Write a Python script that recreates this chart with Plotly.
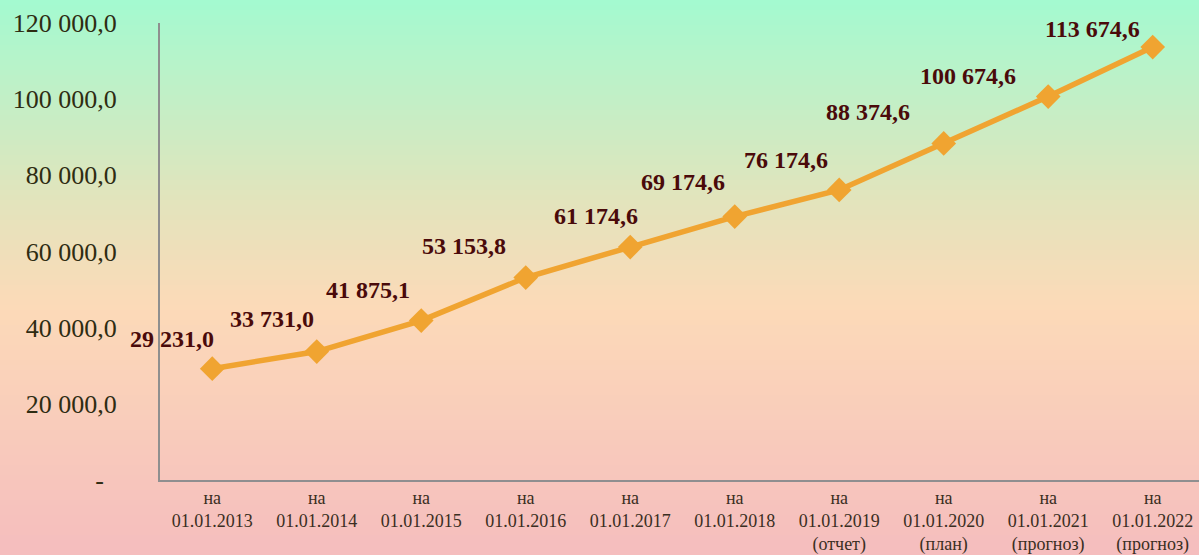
import plotly.graph_objects as go

categories = [
    "на<br>01.01.2013", "на<br>01.01.2014", "на<br>01.01.2015", "на<br>01.01.2016",
    "на<br>01.01.2017", "на<br>01.01.2018", "на<br>01.01.2019<br>(отчет)",
    "на<br>01.01.2020<br>(план)", "на<br>01.01.2021<br>(прогноз)", "на<br>01.01.2022<br>(прогноз)",
]
values = [29231.0, 33731.0, 41875.1, 53153.8, 61174.6, 69174.6, 76174.6, 88374.6, 100674.6, 113674.6]
value_labels = ["29 231,0", "33 731,0", "41 875,1", "53 153,8", "61 174,6",
                "69 174,6", "76 174,6", "88 374,6", "100 674,6", "113 674,6"]
y_tickvals = [0, 20000, 40000, 60000, 80000, 100000, 120000]
y_ticktext = ["-\u00a0\u00a0", "20 000,0", "40 000,0", "60 000,0", "80 000,0", "100 000,0", "120 000,0"]

label_xshift = [-40, -45, -53, -62, -34, -52, -53, -76, -80, -60]
label_yshift = [30, 33, 31, 32, 31, 35, 30, 31, 21, 18]

fig = go.Figure()
fig.add_trace(go.Scatter(
    x=list(range(len(categories))), y=values, mode="lines+markers",
    line=dict(color="#F0A431", width=5.5),
    marker=dict(symbol="diamond", size=19, color="#F0A431"),
    hoverinfo="skip",
))

for i, (v, t) in enumerate(zip(values, value_labels)):
    fig.add_annotation(x=i, y=v, text=t, showarrow=False,
                       xshift=label_xshift[i], yshift=label_yshift[i],
                       font=dict(family="Liberation Serif", size=24, color="#4A0A0A", weight="bold"))

# gradient background
stops = [(0.0, (163, 250, 208)), (0.36, (226, 228, 188)), (0.55, (252, 218, 184)), (1.0, (245, 189, 190))]
def col(t):
    for (t0, c0), (t1, c1) in zip(stops[:-1], stops[1:]):
        if t0 <= t <= t1:
            f = (t - t0) / (t1 - t0)
            return "rgb(%d,%d,%d)" % tuple(round(a + (b - a) * f) for a, b in zip(c0, c1))
    return "rgb(%d,%d,%d)" % stops[-1][1]

H = 555
n = 111
shapes = []
for k in range(n):
    py0 = k * H / n
    py1 = (k + 1) * H / n + 0.6
    t = (py0 + py1) / 2 / H
    y0 = (480 - py1) / 457
    y1 = (480 - py0) / 457
    shapes.append(dict(type="rect", xref="paper", yref="paper", x0=-0.2, x1=1.05, y0=y0, y1=y1,
                       fillcolor=col(t), line=dict(width=0), layer="below"))

fig.update_layout(
    width=1199, height=555,
    margin=dict(l=160, r=0, t=23, b=75, autoexpand=False),
    paper_bgcolor="#F5BDBE", plot_bgcolor="rgba(0,0,0,0)",
    shapes=shapes, showlegend=False,
    xaxis=dict(range=[-0.5, 9.443], tickvals=list(range(len(categories))), ticktext=categories,
               showgrid=False, zeroline=False, showline=True, linecolor="#8F8F8F", linewidth=2,
               ticks="", tickfont=dict(family="Liberation Serif", size=18, color="#3A2E22"),
               ticklabelstandoff=0, automargin=False),
    yaxis=dict(range=[0, 120000], tickvals=y_tickvals, ticktext=y_ticktext,
               showgrid=False, zeroline=False, showline=True, linecolor="#8F8F8F", linewidth=2,
               ticks="", tickfont=dict(family="Liberation Serif", size=26, color="#2E2C12"),
               ticklabelstandoff=36, automargin=False),
)

fig.write_html("out.html", config={"displayModeBar": False},
               post_script="document.body.style.margin='0';")
